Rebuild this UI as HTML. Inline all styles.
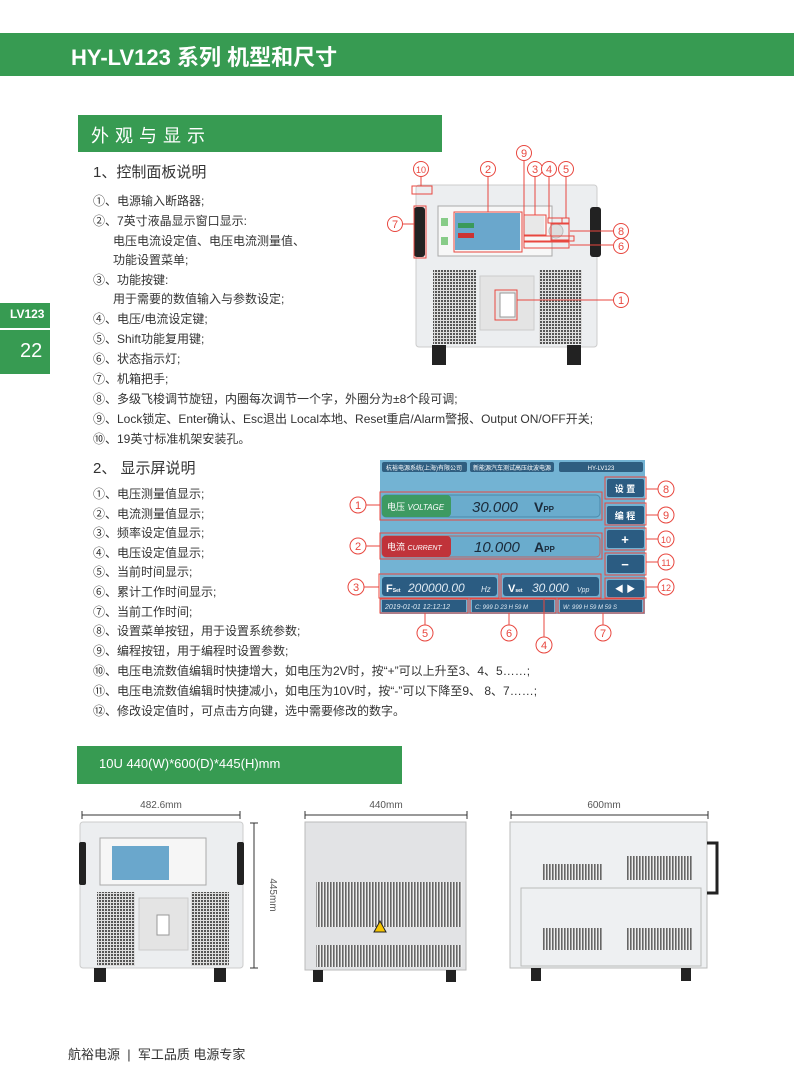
<!DOCTYPE html>
<html><head><meta charset="utf-8">
<style>
body{margin:0;width:794px;height:1077px;background:#fff;position:relative;overflow:hidden;font-family:"Liberation Sans","Noto Sans CJK SC",sans-serif;color:#333}
.a{position:absolute;white-space:nowrap}
.g{background:#379b52;color:#fff}
.li{position:absolute;left:93px;font-size:12px;color:#333;white-space:nowrap}
svg text{font-family:"Liberation Sans","Noto Sans CJK SC",sans-serif}
</style></head><body>
<div class="a g" style="left:0;top:33px;width:794px;height:43px"></div>
<div class="a" style="left:71px;top:40px;font-size:22px;font-weight:bold;color:#fff">HY-LV123 系列 机型和尺寸</div>
<div class="a g" style="left:78px;top:115px;width:364px;height:37px"></div>
<div class="a" style="left:91px;top:122px;font-size:18px;color:#fff;letter-spacing:6px">外观与显示</div>
<div class="a g" style="left:0;top:303px;width:50px;height:25px"></div>
<div class="a" style="left:10px;top:307px;font-size:12px;font-weight:bold;color:#fff">LV123</div>
<div class="a g" style="left:0;top:330px;width:50px;height:44px"></div>
<div class="a" style="left:20px;top:340px;font-size:20px;color:#fff">22</div>

<div class="a" style="left:93px;top:161px;font-size:15px;color:#333">1、控制面板说明</div>
<div class="li" style="top:192px">①、电源输入断路器;</div>
<div class="li" style="top:212px">②、7英寸液晶显示窗口显示:</div>
<div class="li" style="top:232px;left:113px">电压电流设定值、电压电流测量值、</div>
<div class="li" style="top:251px;left:113px">功能设置菜单;</div>
<div class="li" style="top:271px">③、功能按键:</div>
<div class="li" style="top:290px;left:113px">用于需要的数值输入与参数设定;</div>
<div class="li" style="top:310px">④、电压/电流设定键;</div>
<div class="li" style="top:330px">⑤、Shift功能复用键;</div>
<div class="li" style="top:350px">⑥、状态指示灯;</div>
<div class="li" style="top:370px">⑦、机箱把手;</div>
<div class="li" style="top:390px">⑧、多级飞梭调节旋钮，内圈每次调节一个字，外圈分为±8个段可调;</div>
<div class="li" style="top:410px">⑨、Lock锁定、Enter确认、Esc退出 Local本地、Reset重启/Alarm警报、Output ON/OFF开关;</div>
<div class="li" style="top:430px">⑩、19英寸标准机架安装孔。</div>

<div class="a" style="left:93px;top:457px;font-size:15px;color:#333">2、 显示屏说明</div>
<div class="li" style="top:485px">①、电压测量值显示;</div>
<div class="li" style="top:505px">②、电流测量值显示;</div>
<div class="li" style="top:524px">③、频率设定值显示;</div>
<div class="li" style="top:544px">④、电压设定值显示;</div>
<div class="li" style="top:563px">⑤、当前时间显示;</div>
<div class="li" style="top:583px">⑥、累计工作时间显示;</div>
<div class="li" style="top:603px">⑦、当前工作时间;</div>
<div class="li" style="top:622px">⑧、设置菜单按钮，用于设置系统参数;</div>
<div class="li" style="top:642px">⑨、编程按钮，用于编程时设置参数;</div>
<div class="li" style="top:662px">⑩、电压电流数值编辑时快捷增大，如电压为2V时，按“+”可以上升至3、4、5……;</div>
<div class="li" style="top:682px">⑪、电压电流数值编辑时快捷减小，如电压为10V时，按“-”可以下降至9、 8、7……;</div>
<div class="li" style="top:702px">⑫、修改设定值时，可点击方向键，选中需要修改的数字。</div>

<div class="a g" style="left:77px;top:746px;width:325px;height:38px"></div>
<div class="a" style="left:99px;top:756px;font-size:13px;color:#fff">10U 440(W)*600(D)*445(H)mm</div>

<div class="a" style="left:68px;top:1044px;font-size:13px;color:#333">航裕电源 &nbsp;| &nbsp;军工品质 电源专家</div>

<svg class="a" style="left:0;top:0" width="794" height="1077" viewBox="0 0 794 1077">
<defs>
<pattern id="mesh" width="3" height="3" patternUnits="userSpaceOnUse"><rect width="3" height="3" fill="#ddd"/><rect width="2" height="2" fill="#555"/></pattern>
<pattern id="slot" width="3" height="6" patternUnits="userSpaceOnUse"><rect width="3" height="6" fill="#eee"/><rect width="1.6" height="6" fill="#666"/></pattern>
</defs>
<!-- front product top -->
<g>
<rect x="416" y="185" width="181" height="162" rx="3" fill="#eceef0" stroke="#ccc"/>
<rect x="432" y="345" width="14" height="20" fill="#222"/><rect x="567" y="345" width="14" height="20" fill="#222"/>
<rect x="414" y="207" width="11" height="50" rx="3" fill="#222"/><rect x="590" y="207" width="11" height="50" rx="3" fill="#222"/>
<rect x="438" y="206" width="114" height="50" fill="#f7f7f7" stroke="#aaa"/>
<rect x="441" y="218" width="7" height="8" fill="#8c8"/><rect x="441" y="237" width="7" height="8" fill="#8c8"/>
<rect x="455" y="213" width="65" height="37" fill="#6aa7cc"/>
<rect x="458" y="223" width="16" height="5" fill="#3a9a5a"/><rect x="458" y="233" width="16" height="5" fill="#c33"/>
<rect x="524" y="216" width="20" height="20" fill="#e8e8e8"/>
<circle cx="556" cy="231" r="7" fill="#ddd" stroke="#bbb"/>
<rect x="433" y="270" width="43" height="74" fill="url(#mesh)"/>
<rect x="539" y="270" width="43" height="74" fill="url(#mesh)"/>
<rect x="480" y="276" width="54" height="54" fill="#e4e4e4" stroke="#ccc"/>
<rect x="500" y="293" width="15" height="24" fill="#fff" stroke="#999"/>
</g>
<g fill="none" stroke="#e8473f" stroke-width="1">
<rect x="412" y="186" width="20" height="8"/>
<rect x="414" y="206" width="12" height="52"/>
<rect x="454" y="212" width="68" height="40"/>
<rect x="524" y="215" width="22" height="20"/>
<rect x="548" y="218" width="14" height="5"/><rect x="562" y="218" width="7" height="5"/>
<rect x="551" y="224" width="18" height="16"/>
<rect x="524" y="236" width="50" height="5"/>
<rect x="524" y="242" width="45" height="6"/>
<rect x="495" y="290" width="22" height="30"/>
<path d="M421 177V186M488 177V212M524 161V215M535 177V215M549 177V218M566 177V218M403 224H414M570 231H613M570 245H613M517 300H613"/>
</g>
<g font-size="11" fill="#e8473f" text-anchor="middle">
<g fill="#fff" stroke="#e8473f"><circle cx="421" cy="169" r="7.5"/><circle cx="488" cy="169" r="7.5"/><circle cx="524" cy="153" r="7.5"/><circle cx="535" cy="169" r="7.5"/><circle cx="549" cy="169" r="7.5"/><circle cx="566" cy="169" r="7.5"/><circle cx="395" cy="224" r="7.5"/><circle cx="621" cy="231" r="7.5"/><circle cx="621" cy="246" r="7.5"/><circle cx="621" cy="300" r="7.5"/></g>
<text x="421" y="173" font-size="9">10</text><text x="488" y="173">2</text><text x="524" y="157">9</text><text x="535" y="173">3</text><text x="549" y="173">4</text><text x="566" y="173">5</text><text x="395" y="228">7</text><text x="621" y="235">8</text><text x="621" y="250">6</text><text x="621" y="304">1</text>
</g>

<!-- display screen -->
<rect x="380" y="460" width="265" height="154" fill="#73b3d3"/>
<g fill="#2f5e80"><rect x="382" y="462" width="85" height="10" rx="2"/><rect x="470" y="462" width="84" height="10" rx="2"/><rect x="559" y="462" width="84" height="10" rx="2"/></g>
<g font-size="6" fill="#fff" text-anchor="middle"><text x="424" y="470">杭裕电源系统(上海)有限公司</text><text x="512" y="470">新能源汽车测试高压纹波电源</text><text x="601" y="470">HY-LV123</text></g>
<rect x="382" y="495" width="218" height="22" rx="4" fill="#6aaccd" stroke="#4b89aa"/>
<rect x="382" y="495" width="69" height="22" rx="4" fill="#3d9a62"/>
<text x="387" y="510" font-size="9" fill="#fff">电压 <tspan font-style="italic" font-size="8">VOLTAGE</tspan></text>
<text x="472" y="512" font-size="15" font-style="italic" fill="#1b2b3b">30.000</text><text x="534" y="512" font-size="14" font-weight="bold" fill="#1b2b3b">V<tspan font-size="8">PP</tspan></text>
<rect x="382" y="536" width="218" height="21" rx="4" fill="#6aaccd" stroke="#b66"/>
<rect x="382" y="536" width="69" height="21" rx="4" fill="#c0333a"/>
<text x="387" y="550" font-size="9" fill="#fff">电流 <tspan font-style="italic" font-size="7">CURRENT</tspan></text>
<text x="474" y="552" font-size="15" font-style="italic" fill="#1b2b3b">10.000</text><text x="534" y="552" font-size="14" font-weight="bold" fill="#1b2b3b">A<tspan font-size="8">PP</tspan></text>
<g fill="#2b5c82"><rect x="382" y="577" width="115" height="19" rx="3"/><rect x="503" y="577" width="96" height="19" rx="3"/>
<rect x="607" y="479" width="37" height="18" rx="2"/><rect x="607" y="506" width="37" height="18" rx="2"/><rect x="607" y="530" width="37" height="18" rx="2"/><rect x="607" y="555" width="37" height="18" rx="2"/><rect x="607" y="580" width="37" height="17" rx="2"/>
<rect x="382" y="600" width="84" height="12"/><rect x="472" y="600" width="82" height="12"/><rect x="560" y="600" width="82" height="12"/></g>
<g fill="#fff" font-weight="bold"><text x="386" y="592" font-size="11">F<tspan font-size="5">Set</tspan></text><text x="508" y="592" font-size="11">V<tspan font-size="5">set</tspan></text>
<text x="625" y="492" font-size="9" text-anchor="middle">设 置</text><text x="625" y="519" font-size="9" text-anchor="middle">编 程</text><text x="625" y="544" font-size="13" text-anchor="middle">+</text><text x="625" y="569" font-size="13" text-anchor="middle">−</text><text x="625" y="592" font-size="9" text-anchor="middle">◀ ▶</text></g>
<g fill="#dfeaf3" font-style="italic"><text x="408" y="592" font-size="12">200000.00</text><text x="481" y="592" font-size="8">Hz</text><text x="532" y="592" font-size="12">30.000</text><text x="577" y="592" font-size="7">Vpp</text>
<text x="385" y="609" font-size="7">2019-01-01 12:12:12</text><text x="475" y="609" font-size="6">C:    999 D 23 H 59 M</text><text x="563" y="609" font-size="6">W:    999 H 59 M 59 S</text></g>
<g fill="none" stroke="#e8473f"><rect x="380" y="492" width="222" height="28"/><rect x="380" y="533" width="222" height="26"/><rect x="379" y="574" width="120" height="24"/><rect x="501" y="574" width="100" height="24"/>
<rect x="605" y="477" width="41" height="22"/><rect x="605" y="503" width="41" height="22"/><rect x="605" y="528" width="41" height="22"/><rect x="605" y="553" width="41" height="22"/><rect x="605" y="578" width="41" height="20"/>
<rect x="380" y="599" width="88" height="14"/><rect x="470" y="599" width="86" height="14"/><rect x="558" y="599" width="86" height="14"/>
<path d="M366 505H380M366 546H380M364 587H379M646 489H658M646 515H658M646 539H658M646 562H658M646 587H658M425 613V625M509 613V625M603 613V625M544 598V637"/></g>
<g font-size="11" fill="#e8473f" text-anchor="middle">
<g fill="#fff" stroke="#e8473f"><circle cx="358" cy="505" r="8"/><circle cx="358" cy="546" r="8"/><circle cx="356" cy="587" r="8"/><circle cx="666" cy="489" r="8"/><circle cx="666" cy="515" r="8"/><circle cx="666" cy="539" r="8"/><circle cx="666" cy="562" r="8"/><circle cx="666" cy="587" r="8"/><circle cx="425" cy="633" r="8"/><circle cx="509" cy="633" r="8"/><circle cx="603" cy="633" r="8"/><circle cx="544" cy="645" r="8"/></g>
<text x="358" y="509">1</text><text x="358" y="550">2</text><text x="356" y="591">3</text><text x="666" y="493">8</text><text x="666" y="519">9</text><text x="666" y="543" font-size="9">10</text><text x="666" y="566" font-size="9">11</text><text x="666" y="591" font-size="9">12</text><text x="425" y="637">5</text><text x="509" y="637">6</text><text x="603" y="637">7</text><text x="544" y="649">4</text>
</g>

<!-- bottom images -->
<g stroke="#333" fill="none"><path d="M82 815H240M82 811V819M240 811V819M305 815H467M305 811V819M467 811V819M511 815H708M511 811V819M708 811V819M254 823V968M250 823H258M250 968H258"/></g>
<g font-size="10" fill="#555" text-anchor="middle"><text x="161" y="808">482.6mm</text><text x="386" y="808">440mm</text><text x="604" y="808">600mm</text><text x="270" y="895" transform="rotate(90 270 895)">445mm</text></g>
<!-- img1 -->
<rect x="80" y="822" width="163" height="146" rx="3" fill="#eceef0" stroke="#ccc"/>
<rect x="94" y="968" width="12" height="14" fill="#222"/><rect x="214" y="968" width="12" height="14" fill="#222"/>
<rect x="79" y="842" width="7" height="43" rx="2" fill="#222"/><rect x="237" y="842" width="7" height="43" rx="2" fill="#222"/>
<rect x="100" y="838" width="106" height="47" fill="#f6f6f6" stroke="#aaa"/>
<rect x="112" y="846" width="57" height="34" fill="#6aa7cc"/>
<rect x="97" y="892" width="38" height="74" fill="url(#mesh)"/><rect x="191" y="892" width="38" height="74" fill="url(#mesh)"/>
<rect x="139" y="898" width="49" height="52" fill="#e4e4e4" stroke="#ccc"/><rect x="157" y="915" width="12" height="20" fill="#fff" stroke="#999"/>
<!-- img2 -->
<rect x="305" y="822" width="161" height="148" fill="#e2e3e5" stroke="#bbb"/>
<rect x="316" y="882" width="146" height="45" fill="url(#slot)"/>
<rect x="316" y="945" width="146" height="22" fill="url(#slot)"/>
<path d="M374 932l6-11 6 11z" fill="#f5c400" stroke="#222"/>
<rect x="313" y="970" width="10" height="12" fill="#222"/><rect x="446" y="970" width="10" height="12" fill="#222"/>
<!-- img3 -->
<rect x="510" y="822" width="197" height="146" fill="#eef0f2" stroke="#bbb"/>
<rect x="521" y="888" width="180" height="78" fill="none" stroke="#bbb"/>
<rect x="542" y="864" width="60" height="16" fill="url(#slot)"/><rect x="627" y="856" width="65" height="24" fill="url(#slot)"/>
<rect x="542" y="928" width="60" height="22" fill="url(#slot)"/><rect x="627" y="928" width="65" height="22" fill="url(#slot)"/>
<path d="M707 843h10v50h-10" fill="none" stroke="#222" stroke-width="3"/>
<rect x="531" y="968" width="10" height="13" fill="#222"/><rect x="681" y="968" width="10" height="13" fill="#222"/>
</svg>
</body></html>
